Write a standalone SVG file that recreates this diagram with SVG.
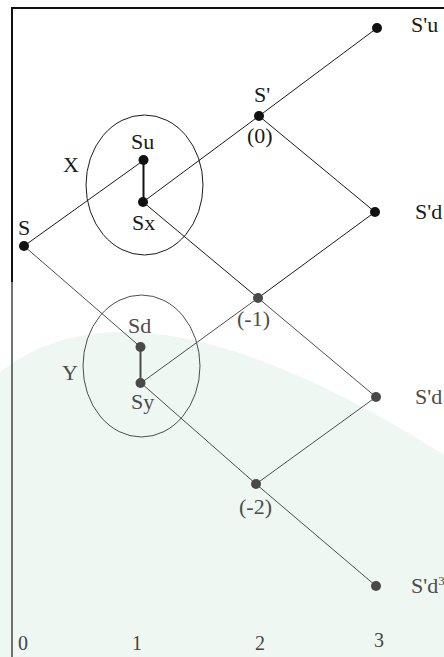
<svg xmlns="http://www.w3.org/2000/svg" width="444" height="657" viewBox="0 0 444 657">
<style>
.t{font-family:"Liberation Serif","Times New Roman",serif;font-size:22px;fill:#1a1a1a}
.tg{font-family:"Liberation Serif","Times New Roman",serif;font-size:22px;fill:#4d4d4d}
.n{font-family:"Liberation Serif","Times New Roman",serif;font-size:20px;fill:#444}
.e{stroke:#1a1a1a;stroke-width:1;fill:none}
.eg{stroke:#4d4d4d;stroke-width:1;fill:none}
.d{fill:#111}
.dg{fill:#4a4a4a}
</style>
<rect x="0" y="0" width="444" height="657" fill="#ffffff"/>
<path d="M0,372 Q140,262 444,455 L444,657 L0,657 Z" fill="#eef7f2"/>
<g id="frame">
<line x1="11" y1="8" x2="444" y2="8" stroke="#111" stroke-width="2"/>
<line x1="12" y1="8" x2="12" y2="282" stroke="#111" stroke-width="2"/>
<line x1="12" y1="282" x2="12" y2="657" stroke="#444" stroke-width="1.5"/>
</g>
<g id="ellipses">
<ellipse id="X-group" cx="144.5" cy="185" rx="58.5" ry="70" class="e"/>
<ellipse id="Y-group" cx="141.5" cy="366" rx="58.5" ry="71" class="eg"/>
</g>
<g id="connectors">
<line x1="24" y1="246" x2="144" y2="160" class="e"/>
<line x1="143.5" y1="160" x2="143.5" y2="202" stroke="#111" stroke-width="2"/>
<line x1="143" y1="202" x2="259" y2="116" class="e"/>
<line x1="259" y1="116" x2="377" y2="28" class="e"/>
<line x1="259" y1="116" x2="375" y2="212" class="e"/>
<line x1="143" y1="202" x2="258" y2="298" class="e"/>
<line x1="375" y1="212" x2="258" y2="298" class="e"/>
<line x1="24" y1="246" x2="140.5" y2="347" class="eg"/>
<line x1="140.5" y1="347" x2="140.5" y2="383" stroke="#4a4a4a" stroke-width="2"/>
<line x1="141" y1="383" x2="258" y2="298" class="eg"/>
<line x1="258" y1="298" x2="376" y2="397" class="eg"/>
<line x1="141" y1="383" x2="256" y2="484" class="eg"/>
<line x1="376" y1="397" x2="256" y2="484" class="eg"/>
<line x1="256" y1="484" x2="376" y2="586" class="eg"/>
</g>
<g id="node-S"><circle cx="24" cy="246" r="5" class="d"/><text x="18" y="235" class="t">S</text></g>
<g id="node-Su"><circle cx="143.5" cy="160" r="5" class="d"/><text x="131" y="149" class="t">Su</text></g>
<g id="node-Sx"><circle cx="143" cy="202" r="5" class="d"/><text x="132" y="230" class="t">Sx</text></g>
<g id="label-X"><text x="63" y="172" class="t">X</text></g>
<g id="node-S1"><circle cx="259" cy="116" r="5" class="d"/><text x="254" y="102" class="t">S'</text><text x="247" y="143" class="t">(0)</text></g>
<g id="node-S1u"><circle cx="377" cy="28" r="5" class="d"/><text x="411" y="32" class="t">S'u</text></g>
<g id="node-S1d"><circle cx="375" cy="212" r="5" class="d"/><text x="415" y="219" class="t">S'd</text></g>
<g id="node-m1"><circle cx="258" cy="298" r="5" class="dg"/><text x="237" y="326" class="tg">(-1)</text></g>
<g id="node-Sd"><circle cx="140.5" cy="347" r="5" class="dg"/><text x="128" y="333" class="tg">Sd</text></g>
<g id="node-Sy"><circle cx="140.5" cy="383" r="5" class="dg"/><text x="131" y="409" class="tg">Sy</text></g>
<g id="label-Y"><text x="62" y="380" class="tg">Y</text></g>
<g id="node-S1d2"><circle cx="376" cy="397" r="5" class="dg"/><text x="415" y="404" class="tg">S'd</text></g>
<g id="node-m2"><circle cx="256" cy="484" r="5" class="dg"/><text x="239" y="514" class="tg">(-2)</text></g>
<g id="node-S1d3"><circle cx="376" cy="586" r="5" class="dg"/><text x="411" y="593" class="tg">S'd<tspan dy="-8" font-size="13">3</tspan></text></g>
<g id="axis">
<text x="23" y="650" class="n" text-anchor="middle">0</text>
<text x="137" y="650" class="n" text-anchor="middle">1</text>
<text x="260" y="650" class="n" text-anchor="middle">2</text>
<text x="379" y="647" class="n" text-anchor="middle">3</text>
</g>
</svg>
